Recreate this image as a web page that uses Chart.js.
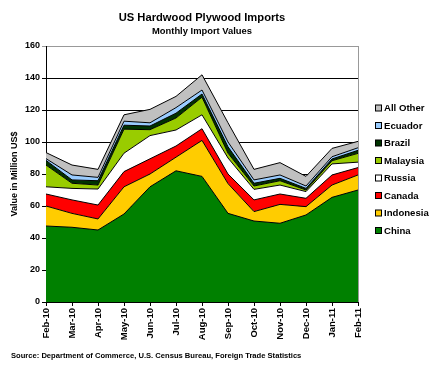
<!DOCTYPE html>
<html>
<head>
<meta charset="utf-8">
<script src="https://cdn.jsdelivr.net/npm/chart.js@4/dist/chart.umd.min.js"></script>
<style>
html,body{margin:0;padding:0;background:#fff;}
canvas{display:block;}
</style>
</head>
<body>
<canvas id="c" width="442" height="371"></canvas>
<script>
const categories = ['Feb-10','Mar-10','Apr-10','May-10','Jun-10','Jul-10','Aug-10','Sep-10','Oct-10','Nov-10','Dec-10','Jan-11','Feb-11'];
const china     = [47.5, 46.7, 45.0, 55.0, 72.0, 82.0, 78.5, 55.4, 50.6, 49.2, 54.4, 65.4, 70.0];
const indonesia = [12.5,  8.7,  6.9, 17.0,  8.0,  8.5, 22.5, 18.6,  5.9, 11.8,  5.2,  7.7,  9.4];
const canada    = [ 7.5,  8.4,  8.7,  9.5,  9.5,  7.0,  7.3,  6.0,  7.3,  6.5,  5.2,  6.3,  4.6];
const russia    = [ 4.5,  7.2, 10.0, 11.5, 14.5, 10.0,  8.7, 10.0,  6.6,  5.6,  4.2,  6.9,  3.4];
const malaysia  = [13.6,  3.2,  2.5, 15.0,  3.7,  7.5, 11.0,  3.0,  2.1,  2.7,  1.0,  2.0,  5.5];
const brazil    = [ 2.9,  2.1,  2.7,  2.5,  2.3,  3.0,  2.0,  4.0,  1.7,  1.5,  1.0,  1.1,  1.9];
const ecuador   = [ 1.1,  3.1,  2.1,  2.5,  2.0,  3.5,  2.5,  3.0,  2.1,  2.1,  1.5,  1.4,  1.6];
const allOther  = [ 3.8,  6.2,  5.0,  4.0,  8.4,  7.0,  9.5, 12.0,  6.6,  7.7,  6.0,  5.2,  4.0];
const yTicks = [0, 20, 40, 60, 80, 100, 120, 140, 160];

const titleText = 'US Hardwood Plywood Imports';
const subtitleText = 'Monthly Import Values';
const yTitle = 'Value in Million US$';
const sourceText = 'Source: Department of Commerce, U.S. Census Bureau, Foreign Trade Statistics';

const seriesDefs = [
  ['China', china, '#008000'],
  ['Indonesia', indonesia, '#FFCC00'],
  ['Canada', canada, '#FF0000'],
  ['Russia', russia, '#FFFFFF'],
  ['Malaysia', malaysia, '#99CC00'],
  ['Brazil', brazil, '#003300'],
  ['Ecuador', ecuador, '#99CCFF'],
  ['All Other', allOther, '#C0C0C0']
];

const FONT = '"Liberation Sans", Arial, sans-serif';
Chart.defaults.font.family = FONT;
Chart.defaults.font.weight = 'bold';
Chart.defaults.color = '#000';

const datasets = seriesDefs.map((s, i) => ({
  label: s[0],
  data: s[1],
  backgroundColor: s[2],
  borderColor: '#000',
  borderWidth: 1,
  fill: i === 0 ? 'origin' : '-1',
  pointRadius: 0,
  pointHoverRadius: 0,
  tension: 0
}));

const decor = {
  id: 'decor',
  afterDraw(chart) {
    const ctx = chart.ctx;
    const a = chart.chartArea;
    const cx = (a.left + a.right) / 2;
    ctx.save();
    // right border
    ctx.strokeStyle = '#999';
    ctx.lineWidth = 1;
    ctx.beginPath();
    ctx.moveTo(a.right + 0.5, a.top);
    ctx.lineTo(a.right + 0.5, a.bottom);
    ctx.stroke();
    ctx.fillStyle = '#000';
    ctx.textAlign = 'center';
    ctx.textBaseline = 'alphabetic';
    ctx.font = 'bold 11.2px ' + FONT;
    ctx.fillText(titleText, cx, 21);
    ctx.font = 'bold 9.4px ' + FONT;
    ctx.fillText(subtitleText, cx, 34);
    // y title
    ctx.save();
    ctx.translate(17, (a.top + a.bottom) / 2);
    ctx.rotate(-Math.PI / 2);
    ctx.font = 'bold 9px ' + FONT;
    ctx.textBaseline = 'alphabetic';
    ctx.fillText(yTitle, 0, 0);
    ctx.restore();
    // source
    ctx.textAlign = 'left';
    ctx.font = 'bold 7.6px ' + FONT;
    ctx.fillText(sourceText, 11, 358);
    // legend
    ctx.font = 'bold 9.6px ' + FONT;
    ctx.textBaseline = 'middle';
    const ds = chart.data.datasets;
    for (let k = 0; k < ds.length; k++) {
      const d = ds[ds.length - 1 - k];
      const y = 108 + k * 17.5;
      ctx.fillStyle = d.backgroundColor;
      ctx.fillRect(375.5, y - 3, 6, 6);
      ctx.strokeStyle = '#000';
      ctx.strokeRect(375.5, y - 3, 6, 6);
      ctx.fillStyle = '#000';
      ctx.fillText(d.label, 384, y + 0.5);
    }
    ctx.restore();
  }
};

new Chart(document.getElementById('c'), {
  type: 'line',
  data: { labels: categories, datasets },
  options: {
    responsive: false,
    devicePixelRatio: 1,
    animation: false,
    events: [],
    layout: { padding: { top: 46, right: 84, bottom: 0, left: 0 } },
    plugins: { legend: { display: false }, tooltip: { enabled: false }, title: { display: false } },
    scales: {
      x: {
        offset: false,
        afterFit(s) { s.height = 69; },
        grid: { display: true, drawOnChartArea: false, drawTicks: true, tickLength: 4, color: '#000' },
        border: { display: true, color: '#000', width: 1 },
        ticks: { minRotation: 90, maxRotation: 90, padding: 2, autoSkip: false, font: { size: 9.5, weight: 'bold' }, color: '#000' }
      },
      y: {
        stacked: true,
        min: 0,
        max: 160,
        afterFit(s) { s.width = 46; },
        afterBuildTicks(s) { s.ticks = yTicks.map(v => ({ value: v })); },
        grid: {
          color: (c) => (c.tick && c.tick.value === 160 ? '#999' : '#000'),
          tickLength: 4,
          lineWidth: 1
        },
        border: { display: true, color: '#000', width: 1 },
        ticks: { padding: 2, font: { size: 9, weight: 'bold' }, color: '#000' }
      }
    }
  },
  plugins: [decor]
});
</script>
</body>
</html>
